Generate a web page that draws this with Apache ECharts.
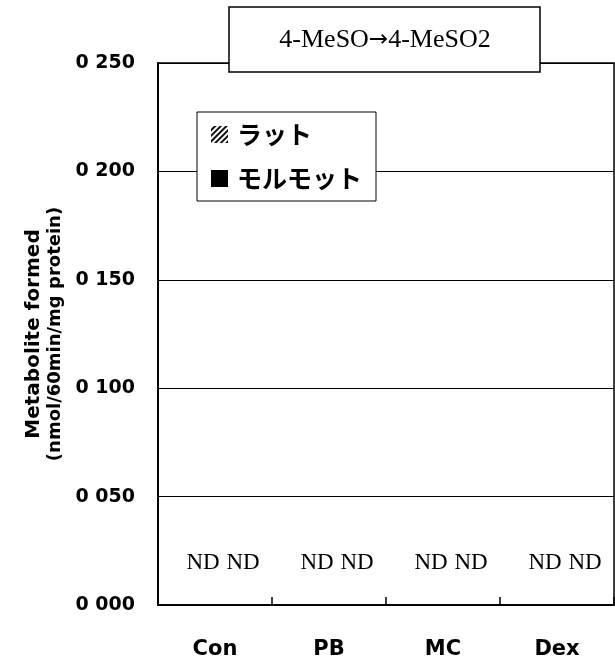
<!DOCTYPE html>
<html>
<head>
<meta charset="utf-8">
<script src="https://cdn.jsdelivr.net/npm/echarts@6/dist/echarts.min.js"></script>
<style>
html,body{margin:0;padding:0;background:#fff;}
#chart{width:615px;height:666px;}
</style>
</head>
<body>
<div id="chart"></div>
<script>
var categories = ['Con', 'PB', 'MC', 'Dex'];
var ratValues = [0, 0, 0, 0];
var guineaPigValues = [0, 0, 0, 0];
var valueLabels = ['ND', 'ND', 'ND', 'ND'];
var yTickLabels = ['0 000', '0 050', '0 100', '0 150', '0 200', '0 250'];
var seriesNames = ['ラット', 'モルモット'];
var titleParts = ['4-MeSO', '\u2192', '4-MeSO2'];

var chart = echarts.init(document.getElementById('chart'), null, {renderer: 'canvas'});

var ndLabel = {
  show: true,
  position: 'top',
  distance: 31,
  offset: [8, 0],
  formatter: function (p) { return valueLabels[p.dataIndex]; },
  fontFamily: 'Liberation Serif',
  fontSize: 23,
  color: '#000'
};

var option = {
  animation: false,
  backgroundColor: '#fff',
  grid: {
    left: 158, right: 1, top: 63, bottom: 61,
    show: true, borderColor: '#000', borderWidth: 1.5, backgroundColor: 'transparent'
  },
  legend: {
    orient: 'vertical',
    left: 197, top: 112,
    padding: [10, 14, 10, 14],
    itemGap: 19,
    itemWidth: 17, itemHeight: 17,
    icon: 'rect',
    borderColor: '#000', borderWidth: 1,
    backgroundColor: '#fff',
    textStyle: {fontSize: 25, fontWeight: 'bold', color: '#000', fontFamily: 'Noto Sans CJK JP', padding: [0, 0, 0, 4]},
    data: seriesNames
  },
  xAxis: {
    type: 'category',
    data: categories,
    axisLine: {lineStyle: {color: '#000', width: 2}},
    axisTick: {show: true, inside: true, length: 8, lineStyle: {color: '#000', width: 1.5}},
    axisLabel: {
      margin: 34, color: '#000', fontSize: 21, fontWeight: 'bold',
      fontFamily: 'DejaVu Sans'
    }
  },
  yAxis: {
    type: 'value',
    min: 0, max: 0.25, interval: 0.05,
    axisLine: {show: true, lineStyle: {color: '#000', width: 2}},
    axisTick: {show: false},
    splitLine: {show: true, lineStyle: {color: '#000', width: 1}},
    axisLabel: {
      margin: 23, color: '#000', fontSize: 19, fontWeight: 'bold',
      fontFamily: 'DejaVu Sans',
      formatter: function (v) { return yTickLabels[Math.round(v / 0.05)]; }
    },
    name: '{a|Metabolite formed}\n{b|(nmol/60min/mg protein)}',
    nameLocation: 'middle',
    nameGap: 86,
    nameRotate: 90,
    nameTextStyle: {
      color: '#000',
      rich: {
        a: {fontSize: 20, fontWeight: 'bold', fontFamily: 'DejaVu Sans', lineHeight: 22},
        b: {fontSize: 18, fontWeight: 'bold', fontFamily: 'DejaVu Sans', lineHeight: 22}
      }
    }
  },
  graphic: [
    {
      type: 'rect', z: 100,
      shape: {x: 229, y: 7, width: 311, height: 65},
      style: {fill: '#fff', stroke: '#000', lineWidth: 1.5}
    },
    {
      type: 'text', z: 101,
      x: 385, y: 40,
      style: {
        text: '{t|' + titleParts[0] + '}{r|' + titleParts[1] + '}{t|' + titleParts[2] + '}',
        fill: '#000',
        align: 'center', verticalAlign: 'middle',
        rich: {
          t: {fontFamily: 'Liberation Serif', fontSize: 26, fill: '#000'},
          r: {fontFamily: 'DejaVu Sans', fontSize: 23, fill: '#000'}
        }
      }
    }
  ],
  series: [
    {
      name: seriesNames[0], type: 'bar', data: ratValues,
      barWidth: 20, barGap: '100%',
      itemStyle: {
        color: '#111',
        decal: {symbol: 'rect', dashArrayX: [1, 0], dashArrayY: [1.5, 2], rotation: -Math.PI / 4, color: '#fff', symbolSize: 1}
      },
      label: ndLabel
    },
    {
      name: seriesNames[1], type: 'bar', data: guineaPigValues,
      barWidth: 20, barGap: '100%',
      itemStyle: {color: '#000'},
      label: ndLabel
    }
  ]
};
chart.setOption(option);
</script>
</body>
</html>
